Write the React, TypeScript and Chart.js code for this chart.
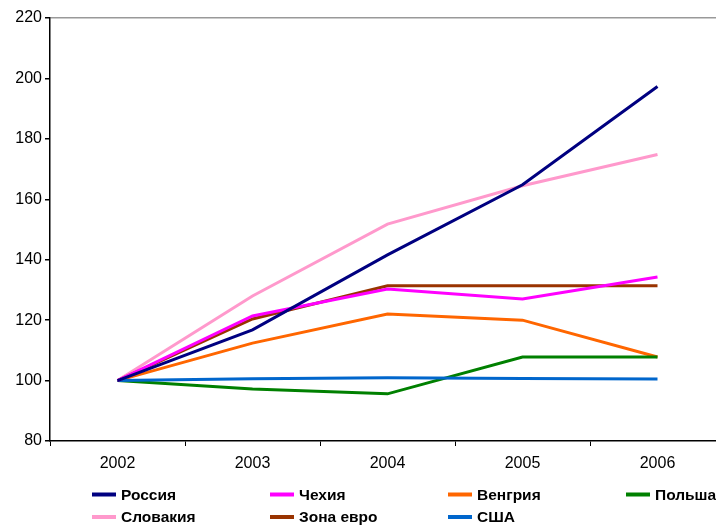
import React, { useEffect, useRef } from "react";
import { Chart, registerables } from "chart.js";

Chart.register(...registerables);

const years = ["2002", "2003", "2004", "2005", "2006"];
const russia = [100, 116.8, 141.6, 164.8, 197.3];
const czech = [100, 121.4, 130.3, 127.0, 134.3];
const hungary = [100, 112.4, 122.0, 120.0, 107.8];
const poland = [100, 97.2, 95.6, 107.8, 107.8];
const slovakia = [100, 128.0, 151.8, 164.5, 174.8];
const euroZone = [100, 120.4, 131.4, 131.4, 131.4];
const usa = [100, 100.6, 100.9, 100.7, 100.5];

const seriesNames = ["Россия", "Чехия", "Венгрия", "Польша", "Словакия", "Зона евро", "США"];
const seriesData = [russia, czech, hungary, poland, slovakia, euroZone, usa];
const seriesColors = ["#000080", "#FF00FF", "#FF6600", "#008000", "#FF99CC", "#993300", "#0066CC"];
const drawOrder = [4, 2, 3, 6, 5, 1, 0];

const FONT = "'Liberation Sans', Arial, sans-serif";

const legendPlugin = {
  id: "gridLegend",
  afterDraw(chart: any) {
    const ctx = chart.ctx;
    const colX = [92, 270, 448, 626];
    const rowY = [494.5, 517];
    ctx.save();
    ctx.font = `bold 15.5px ${FONT}`;
    ctx.textBaseline = "middle";
    ctx.textAlign = "left";
    seriesNames.forEach((name, i) => {
      const x = colX[i % 4];
      const y = rowY[Math.floor(i / 4)];
      ctx.strokeStyle = seriesColors[i];
      ctx.lineWidth = 4;
      ctx.beginPath();
      ctx.moveTo(x, y);
      ctx.lineTo(x + 24, y);
      ctx.stroke();
      ctx.fillStyle = "#000";
      ctx.fillText(name, x + 29, y + 1);
    });
    ctx.restore();
  },
};

export default function App() {
  const ref = useRef<HTMLCanvasElement>(null);
  useEffect(() => {
    if (!ref.current) return;
    const chart = new Chart(ref.current, {
      type: "line",
      data: {
        labels: years,
        datasets: drawOrder.map((i, k) => ({
          label: seriesNames[i],
          data: seriesData[i],
          borderColor: seriesColors[i],
          backgroundColor: seriesColors[i],
          borderWidth: 3,
          pointRadius: 0,
          tension: 0,
          fill: false,
          order: drawOrder.length - k,
        })),
      },
      options: {
        animation: false,
        responsive: false,
        maintainAspectRatio: false,
        layout: { padding: { top: 18, right: 5, bottom: 52, left: 0 } },
        plugins: { legend: { display: false }, tooltip: { enabled: false } },
        scales: {
          x: {
            offset: true,
            grid: {
              offset: true,
              drawOnChartArea: false,
              color: "#000",
              tickColor: "#000",
              tickLength: 5,
            },
            border: { color: "#000", width: 1.5 },
            ticks: { color: "#000", font: { family: FONT, size: 16 }, padding: 8 },
            afterFit(scale: any) {
              scale.height = 32;
            },
          },
          y: {
            min: 80,
            max: 220,
            ticks: { stepSize: 20, color: "#000", font: { family: FONT, size: 16 }, padding: 3 },
            grid: {
              color: (c: any) => (c.tick && c.tick.value === 220 ? "#999999" : "rgba(0,0,0,0)"),
              lineWidth: 1.5,
              tickColor: "#000",
              tickLength: 5,
            },
            border: { color: "#000", width: 1.5 },
            afterFit(scale: any) {
              scale.width = 50;
            },
          },
        },
      },
      plugins: [legendPlugin],
    });
    return () => chart.destroy();
  }, []);
  return (
    <div style={{ position: "absolute", left: 0, top: 0, width: 730, height: 525, background: "#fff" }}>
      <canvas ref={ref} width={730} height={525} style={{ display: "block" }} />
    </div>
  );
}
